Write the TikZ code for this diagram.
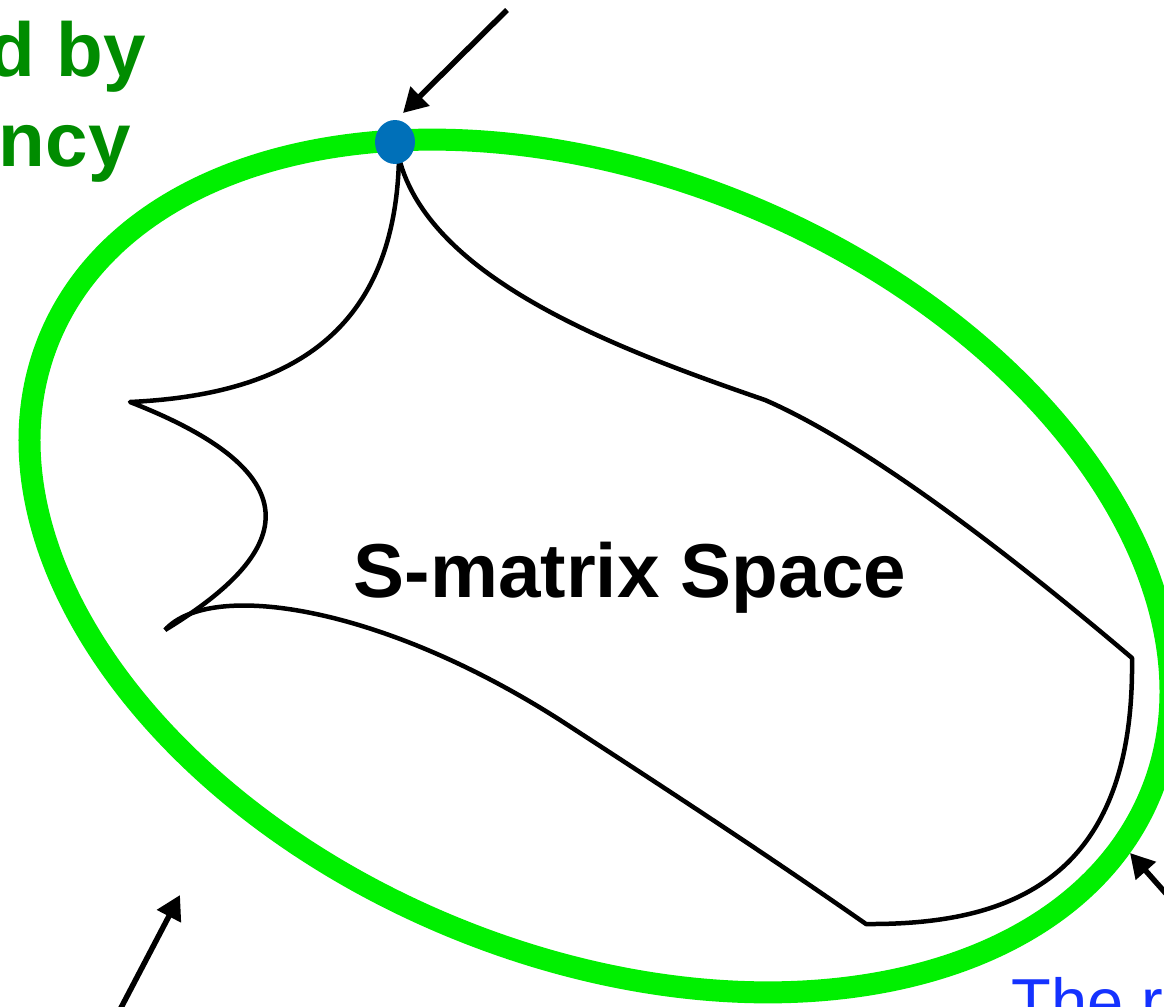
\documentclass[tikz,border=0pt]{standalone}
\usepackage{fontspec}
\setmainfont{Liberation Sans}
\usepackage{xcolor}
\usetikzlibrary{arrows.meta,positioning,shapes.geometric}
\definecolor{limegreen}{RGB}{0,240,0}
\definecolor{textgreen}{RGB}{0,140,0}
\definecolor{dotblue}{RGB}{0,112,185}
\definecolor{textblue}{RGB}{20,50,255}

\begin{document}
\begin{tikzpicture}[
    x=0.02cm, y=-0.02cm,
    bound/.style={draw=limegreen, line width=0.44cm},
    region/.style={draw=black, line width=0.09cm, line join=round},
    pointer/.style={-{Triangle[length=0.48cm, width=0.52cm]}, line width=0.11cm},
    vertex/.style={ellipse, fill=dotblue, minimum width=0.8cm, minimum height=0.88cm, inner sep=0pt},
    bigtext/.style={font=\fontsize{43.5}{52}\selectfont\bfseries, inner sep=0pt},
    bluetext/.style={font=\fontsize{37}{44}\selectfont, text=textblue, inner sep=0pt}
]
\useasboundingbox (0,0) rectangle (1164,1007);

\coordinate (top) at (399,158);
\coordinate (lcusp) at (130,402);
\coordinate (bcusp) at (165,630);
\coordinate (bmid) at (560,720);
\coordinate (bcorner) at (866,924);
\coordinate (rcorner) at (1132,658);
\coordinate (bend) at (765,400);

\draw[bound, rotate around={-22.5:(600,566)}] (600,566) ellipse [x radius=11.92cm, y radius=7.8cm];

\draw[region] (top) .. controls (395,340) and (280,395) .. (lcusp)
    .. controls (330,480) and (280,560) .. (bcusp);
\draw[region] (bcusp) .. controls (210,580) and (380,605) .. (bmid)
    .. controls (660,785) and (760,850) .. (bcorner)
    .. controls (1010,925) and (1135,880) .. (rcorner)
    .. controls (1040,580) and (880,450) .. (bend)
    .. controls (620,350) and (430,280) .. (top);

\node[vertex] (dot) at (395,142) {};

\node[bigtext] (space) at (630,597) [anchor=base] {S-matrix Space};
\node[bigtext, text=textgreen, anchor=base east] (line1) at (146,77) {d by};
\node[bigtext, text=textgreen, anchor=base east] (line2) at (131,167) {ency};
\node[bluetext, anchor=base west] (note) at (1011,1024) {The r};

\coordinate (tailA) at (507,10);
\coordinate (tipA) at (403,113);
\coordinate (tailB) at (112,1025);
\coordinate (tipB) at (180,895);
\coordinate (tailC) at (1185,915);
\coordinate (tipC) at (1130,853);

\draw[pointer] (tailA) -- (tipA);
\draw[pointer] (tailB) -- (tipB);
\draw[pointer] (tailC) -- (tipC);
\end{tikzpicture}
\end{document}
